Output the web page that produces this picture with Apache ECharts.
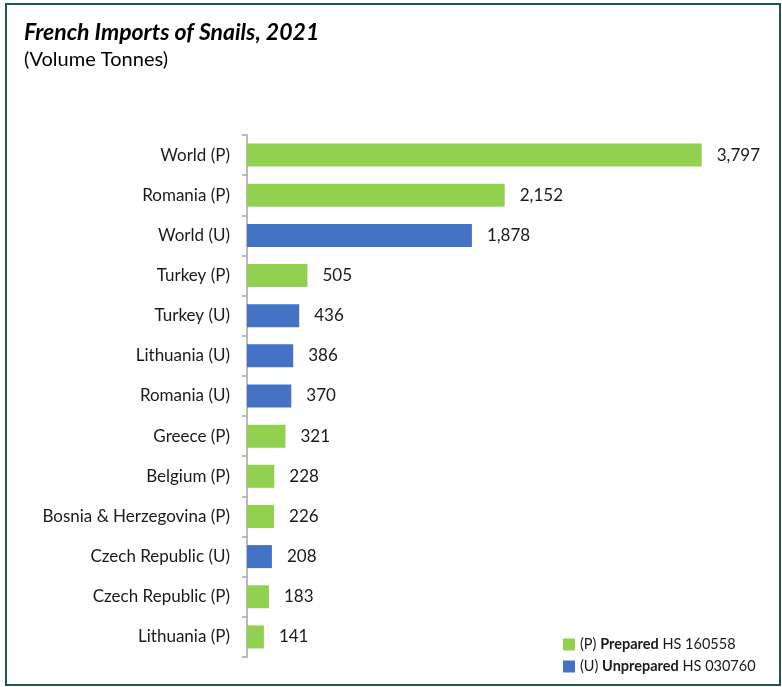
<!DOCTYPE html>
<html>
<head>
<meta charset="utf-8">
<script src="https://cdn.jsdelivr.net/npm/echarts@6/dist/echarts.min.js"></script>
<style>
  html, body { margin: 0; padding: 0; background: #fff; }
  #frame { position: absolute; left: 5px; top: 3px; width: 772px; height: 679px; border: 2px solid #1d5a48; }
  #chart { position: absolute; left: 0; top: 0; width: 782px; height: 687px; }
</style>
</head>
<body>
<div id="frame"></div>
<div id="chart"></div>
<script>
// Import volumes by origin, tonnes (P = prepared, U = unprepared)
const categories = [
  'World (P)', 'Romania (P)', 'World (U)', 'Turkey (P)', 'Turkey (U)',
  'Lithuania (U)', 'Romania (U)', 'Greece (P)', 'Belgium (P)',
  'Bosnia & Herzegovina (P)', 'Czech Republic (U)', 'Czech Republic (P)', 'Lithuania (P)'
];
const prepared = [3797, 2152, '-', 505, '-', '-', '-', 321, 228, 226, '-', 183, 141];
const unprepared = ['-', '-', 1878, '-', 436, 386, 370, '-', '-', '-', 208, '-', '-'];

const font = 'Lato, "Open Sans", sans-serif';
const labelStyle = {
  show: true,
  position: 'right',
  distance: 15,
  color: '#1a1a1a',
  fontSize: 17,
  fontFamily: font,
  formatter: p => p.value.toLocaleString('en-US')
};

const chart = echarts.init(document.getElementById('chart'));
chart.setOption({
  animation: false,
  title: [
    {
      text: 'French Imports of Snails, 2021',
      left: 19, top: 16,
      textStyle: { fontFamily: font, fontSize: 23, fontWeight: 'bold', fontStyle: 'italic', color: '#000' }
    },
    {
      text: '(Volume Tonnes)',
      left: 19, top: 45,
      textStyle: { fontFamily: font, fontSize: 20, fontWeight: 'normal', color: '#000' }
    }
  ],
  legend: {
    orient: 'vertical',
    left: 558, top: 632,
    itemWidth: 12, itemHeight: 12, itemGap: 7,
    icon: 'rect',
    textStyle: {
      fontFamily: font, fontSize: 14.5, color: '#1a1a1a',
      rich: { b: { fontFamily: font, fontSize: 14.5, fontWeight: 'bold', color: '#1a1a1a' } }
    },
    formatter: name => name === 'Prepared'
      ? '(P) {b|Prepared} HS 160558'
      : '(U) {b|Unprepared} HS 030760'
  },
  grid: { left: 247, top: 135, width: 479, height: 522, containLabel: false },
  xAxis: {
    type: 'value', min: 0, max: 4000, show: false
  },
  yAxis: {
    type: 'category',
    data: categories,
    inverse: true,
    axisLine: { show: true, lineStyle: { color: '#a6a6a6', width: 1.5 } },
    axisTick: { show: true, length: 5, lineStyle: { color: '#a6a6a6', width: 1.5 } },
    axisLabel: { color: '#1a1a1a', fontSize: 17, fontFamily: font, margin: 17 },
    splitLine: { show: false }
  },
  series: [
    {
      name: 'Prepared', type: 'bar', stack: 'all',
      data: prepared, barWidth: 23,
      itemStyle: { color: '#92d050' },
      label: labelStyle
    },
    {
      name: 'Unprepared', type: 'bar', stack: 'all',
      data: unprepared, barWidth: 23,
      itemStyle: { color: '#4472c4' },
      label: labelStyle
    }
  ]
});
</script>
</body>
</html>
